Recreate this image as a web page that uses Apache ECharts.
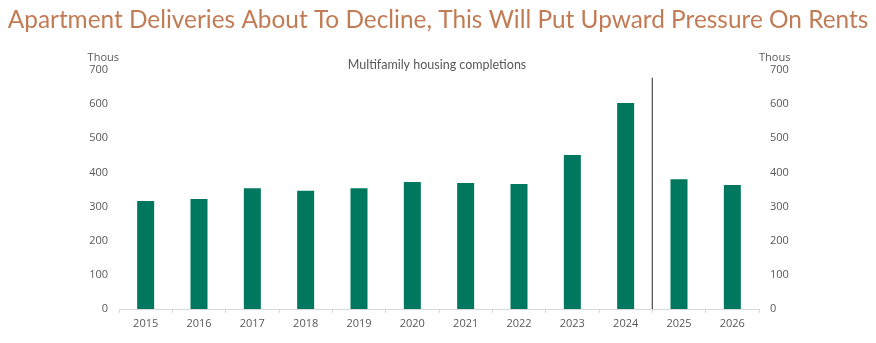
<!DOCTYPE html>
<html><head><meta charset="utf-8">
<script src="https://cdn.jsdelivr.net/npm/echarts@6/dist/echarts.min.js"></script>
<style>html,body{margin:0;padding:0;background:#fff}#c{width:876px;height:343px}</style>
</head><body><div id="c"></div>
<script>
const titleText = "Apartment Deliveries About To Decline, This Will Put Upward Pressure On Rents";
const subtitleText = "Multifamily housing completions";
const unitLabel = "Thous";
const years = ["2015","2016","2017","2018","2019","2020","2021","2022","2023","2024","2025","2026"];
const completions = [316, 322, 354, 346, 354, 372, 369, 366, 451, 603, 380, 363];
const dividerPos = 10;      // boundary between 2024 and 2025 (category index)
const dividerTop = 677;
const yTicks = {min: 0, max: 700, interval: 100};

const chart = echarts.init(document.getElementById('c'), null, {renderer: 'canvas'});
const labelColor = '#595959';
const yAxisCommon = {
  type: 'value', min: yTicks.min, max: yTicks.max, interval: yTicks.interval,
  name: unitLabel, nameGap: 7,
  nameTextStyle: {color: labelColor, fontSize: 11, fontFamily: 'Open Sans'},
  axisLine: {show: false}, axisTick: {show: false}, splitLine: {show: false},
  axisLabel: {color: labelColor, fontSize: 11, fontFamily: 'Open Sans', margin: 11}
};
chart.setOption({
  animation: false,
  title: [{
    text: titleText, left: 'center', top: 3,
    textStyle: {color: '#c27c55', fontSize: 24.4, fontWeight: 'normal', fontFamily: 'Lato'}
  }, {
    text: subtitleText, left: 432, textAlign: 'center', top: 53,
    textStyle: {color: labelColor, fontSize: 12.5, fontWeight: 'normal', fontFamily: 'Lato'}
  }],
  grid: {left: 119, right: 117, top: 70, bottom: 34, containLabel: false},
  xAxis: [{
    type: 'category', data: years, boundaryGap: true,
    axisLine: {lineStyle: {color: '#d9d9d9'}},
    axisTick: {show: true, length: 4, lineStyle: {color: '#d9d9d9'}},
    axisLabel: {color: labelColor, fontSize: 11, fontFamily: 'Open Sans', margin: 9}
  }, {
    type: 'value', min: 0, max: years.length, show: false
  }],
  yAxis: [
    Object.assign({}, yAxisCommon, {position: 'left', nameTextStyle: Object.assign({}, yAxisCommon.nameTextStyle, {align: 'right'})}),
    Object.assign({}, yAxisCommon, {position: 'right', nameTextStyle: Object.assign({}, yAxisCommon.nameTextStyle, {align: 'left'})})
  ],
  series: [{
    type: 'bar', data: completions, barWidth: 17,
    itemStyle: {color: '#00785f'}
  }, {
    type: 'line', xAxisIndex: 1, yAxisIndex: 0,
    data: [[dividerPos, 0], [dividerPos, dividerTop]],
    symbol: 'none', lineStyle: {color: '#595959', width: 1.3}
  }]
});
</script></body></html>
